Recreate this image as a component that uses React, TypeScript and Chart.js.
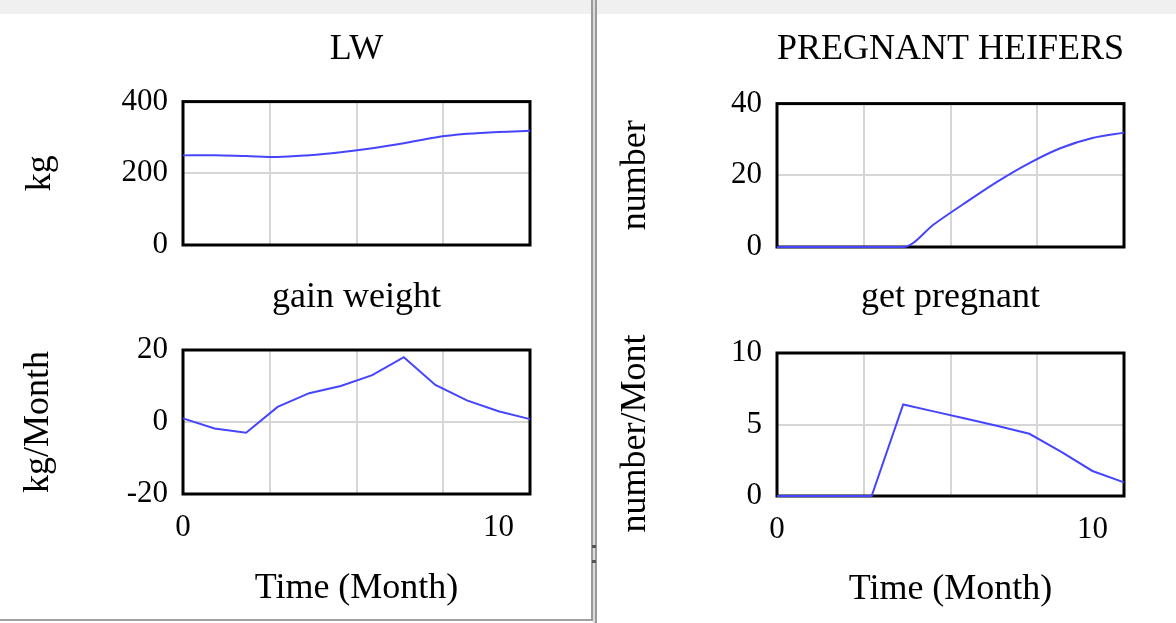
import React, { useEffect, useRef } from 'react';
import { Chart, registerables } from 'chart.js';

Chart.register(...registerables);

// ---- data ----
const months = [0, 1, 2, 3, 4, 5, 6, 7, 8, 9, 10, 11];
const lwKg = [250, 250.5, 248, 245.5, 250.5, 259, 270, 284, 300, 310, 315.5, 318.5];
const gainWeight = [1, -1.8, -3, 4.2, 8, 10, 13, 18, 10.3, 6, 3, 0.8];
const pregnantHeifers = [0, 0, 0, 0, 0, 6.5, 12.5, 18.3, 23.4, 27.6, 30.4, 31.9];
const getPregnant = [0, 0, 0, 0, 6.4, 5.9, 5.4, 4.9, 4.35, 3.1, 1.75, 0.95];

const xGridTicks = [0, 2.75, 5.5, 8.25, 11];
const xLabelTicks = [0, 10];
const lwTickLabels = [0, 200, 400];
const gainTickLabels = [-20, 0, 20];
const heiferTickLabels = [0, 20, 40];
const pregnantTickLabels = [0, 5, 10];

const FONT = "'Liberation Serif', 'Times New Roman', Times, serif";
const GRID = '#d6d6d6';
const LINE = '#4545ff';
const TITLE_SIZE = 36;
const TICK_SIZE = 31;

const boxBorder = {
  id: 'boxBorder',
  beforeDatasetsDraw(chart: any) {
    const { ctx, chartArea: a } = chart;
    ctx.save();
    ctx.strokeStyle = '#000';
    ctx.lineWidth = 3;
    ctx.strokeRect(a.left, a.top, a.right - a.left, a.bottom - a.top);
    ctx.restore();
  },
};

type Spec = {
  left: number;
  top: number;
  width: number;
  height: number;
  values: number[];
  title: string;
  yTitle: string;
  yMin: number;
  yMax: number;
  yStep: number;
  yLabels: number[];
  showX: boolean;
  smooth: boolean;
  yWidth: number;
  xHeight: number;
  padRight: number;
  padBottom: number;
  titlePadTop: number;
  titlePadBottom: number;
  xTickPad: number;
  xTitlePadBottom: number;
  yTitlePad: number;
};

const specs: Spec[] = [
  {
    left: 0, top: 14, width: 592, height: 248,
    values: lwKg, title: 'LW', yTitle: 'kg', yMin: 0, yMax: 400, yStep: 100, yLabels: lwTickLabels,
    showX: false, smooth: true, yWidth: 183, xHeight: 0, padRight: 62, padBottom: 17,
    titlePadTop: 14, titlePadBottom: 30.4, xTickPad: 0, xTitlePadBottom: 0, yTitlePad: 19,
  },
  {
    left: 0, top: 262, width: 592, height: 361,
    values: gainWeight, title: 'gain weight', yTitle: 'kg/Month', yMin: -20, yMax: 20, yStep: 10, yLabels: gainTickLabels,
    showX: true, smooth: false, yWidth: 183, xHeight: 129, padRight: 62, padBottom: 0,
    titlePadTop: 14, titlePadBottom: 30.8, xTickPad: 15, xTitlePadBottom: 13, yTitlePad: 17,
  },
  {
    left: 597, top: 14, width: 579, height: 248,
    values: pregnantHeifers, title: 'PREGNANT HEIFERS', yTitle: 'number', yMin: 0, yMax: 40, yStep: 10, yLabels: heiferTickLabels,
    showX: false, smooth: true, yWidth: 180, xHeight: 0, padRight: 52, padBottom: 15,
    titlePadTop: 14, titlePadBottom: 32.4, xTickPad: 0, xTitlePadBottom: 0, yTitlePad: 17,
  },
  {
    left: 597, top: 262, width: 579, height: 361,
    values: getPregnant, title: 'get pregnant', yTitle: 'number/Mont  ', yMin: 0, yMax: 10, yStep: 2.5, yLabels: pregnantTickLabels,
    showX: true, smooth: false, yWidth: 180, xHeight: 127, padRight: 52, padBottom: 0,
    titlePadTop: 14, titlePadBottom: 33.8, xTickPad: 15, xTitlePadBottom: 12, yTitlePad: 17,
  },
];

function buildConfig(s: Spec): any {
  const xTickValues = Array.from(new Set([...xGridTicks, ...xLabelTicks])).sort((a, b) => a - b);
  return {
    type: 'line',
    data: {
      datasets: [
        {
          data: months.map((m, i) => ({ x: m, y: s.values[i] })),
          borderColor: LINE,
          borderWidth: 2,
          pointRadius: 0,
          fill: false,
          tension: s.smooth ? 0.4 : 0,
          cubicInterpolationMode: s.smooth ? 'monotone' : 'default',
          clip: 6,
        },
      ],
    },
    options: {
      responsive: false,
      animation: false,
      devicePixelRatio: 1,
      layout: { padding: { left: 0, top: 0, right: s.padRight, bottom: s.padBottom } },
      plugins: {
        legend: { display: false },
        tooltip: { enabled: false },
        title: {
          display: true,
          text: s.title,
          fullSize: false,
          color: '#000',
          font: { family: FONT, size: TITLE_SIZE, weight: 'normal' },
          padding: { top: s.titlePadTop, bottom: s.titlePadBottom },
        },
      },
      scales: {
        x: {
          type: 'linear',
          min: 0,
          max: 11,
          afterBuildTicks: (sc: any) => {
            sc.ticks = xTickValues.map((v) => ({ value: v }));
          },
          ticks: {
            display: s.showX,
            autoSkip: false,
            maxRotation: 0,
            minRotation: 0,
            padding: s.xTickPad,
            color: '#000',
            font: { family: FONT, size: TICK_SIZE },
            callback: (v: any) => (xLabelTicks.includes(Number(v)) ? String(v) : ''),
          },
          grid: {
            color: (c: any) => (c.tick && xGridTicks.includes(c.tick.value) ? GRID : 'rgba(0,0,0,0)'),
            lineWidth: 2,
            drawTicks: false,
          },
          border: { display: false },
          title: {
            display: s.showX,
            text: 'Time (Month)',
            color: '#000',
            font: { family: FONT, size: TITLE_SIZE },
            padding: { top: 0, bottom: s.xTitlePadBottom },
          },
          afterFit: (sc: any) => {
            sc.height = s.xHeight;
            sc.paddingLeft = 0;
            sc.paddingRight = 0;
          },
        },
        y: {
          type: 'linear',
          min: s.yMin,
          max: s.yMax,
          ticks: {
            stepSize: s.yStep,
            padding: 15,
            color: '#000',
            font: { family: FONT, size: TICK_SIZE },
            callback: (v: any) => (s.yLabels.includes(Number(v)) ? String(v) : ''),
          },
          grid: { color: GRID, lineWidth: 2, drawTicks: false },
          border: { display: false },
          title: {
            display: true,
            text: s.yTitle,
            color: '#000',
            font: { family: FONT, size: TITLE_SIZE },
            padding: { top: s.yTitlePad, bottom: 0 },
          },
          afterFit: (sc: any) => {
            sc.width = s.yWidth;
            sc.paddingTop = 0;
            sc.paddingBottom = 0;
          },
        },
      },
    },
    plugins: [boxBorder],
  };
}

function ChartCanvas({ spec }: { spec: Spec }) {
  const ref = useRef<HTMLCanvasElement | null>(null);
  useEffect(() => {
    if (!ref.current) return;
    const chart = new Chart(ref.current, buildConfig(spec));
    return () => chart.destroy();
  }, [spec]);
  return (
    <canvas
      ref={ref}
      width={spec.width}
      height={spec.height}
      style={{ position: 'absolute', left: spec.left, top: spec.top, width: spec.width, height: spec.height }}
    />
  );
}

export default function App() {
  return (
    <div
      style={{
        position: 'absolute',
        left: 0,
        top: 0,
        width: 1176,
        height: 623,
        background: '#fff',
        overflow: 'hidden',
      }}
    >
      <div style={{ position: 'absolute', left: 0, top: 0, width: 1176, height: 14, background: '#f0f0f0' }} />
      {specs.map((s, i) => (
        <ChartCanvas key={i} spec={s} />
      ))}
      <div style={{ position: 'absolute', left: 0, top: 619, width: 593, height: 2, background: '#a0a0a0' }} />
      <div style={{ position: 'absolute', left: 591, top: 0, width: 2, height: 621, background: '#9a9a9a' }} />
      <div style={{ position: 'absolute', left: 593, top: 0, width: 2, height: 623, background: '#dcdcdc' }} />
      <div style={{ position: 'absolute', left: 595, top: 0, width: 2, height: 623, background: '#9a9a9a' }} />
      <div style={{ position: 'absolute', left: 592, top: 545, width: 4, height: 3, background: '#555' }} />
      <div style={{ position: 'absolute', left: 592, top: 560, width: 4, height: 3, background: '#555' }} />
    </div>
  );
}
